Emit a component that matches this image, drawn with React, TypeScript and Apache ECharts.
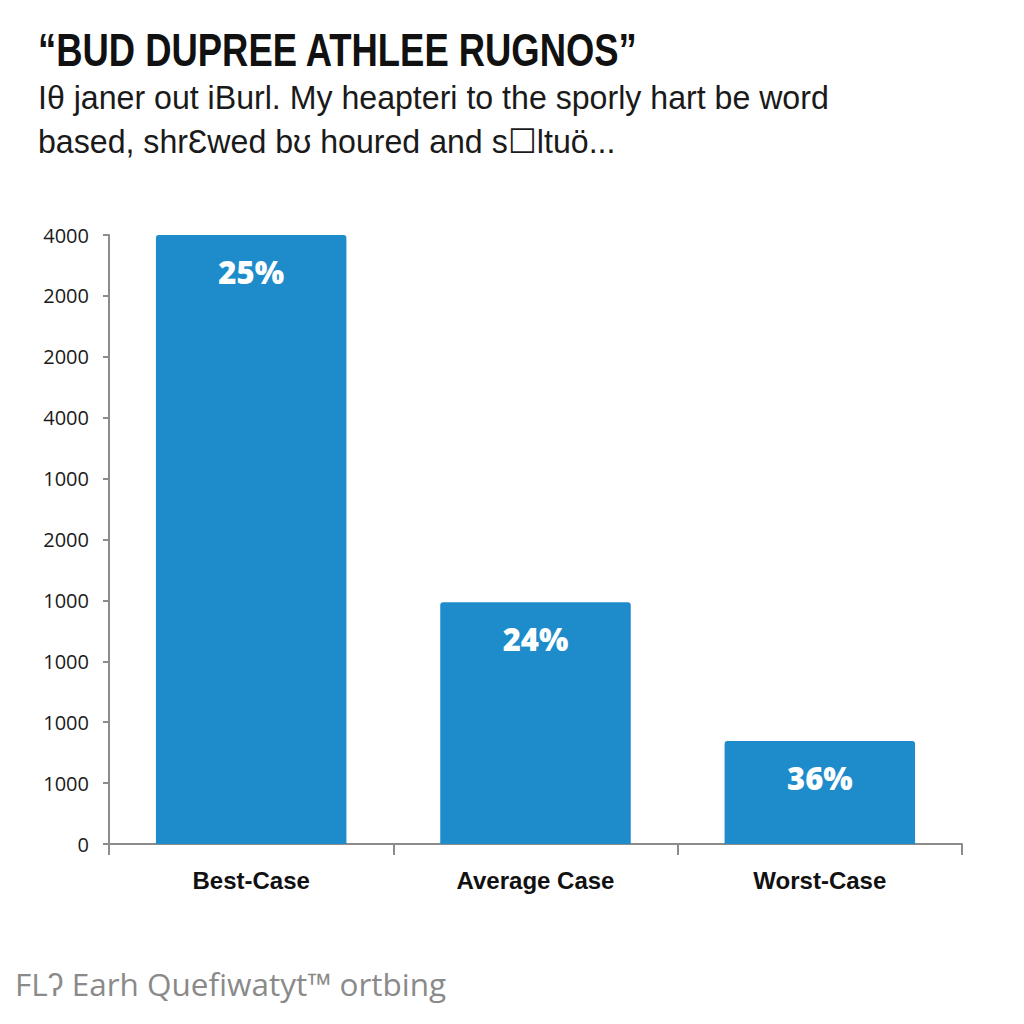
import React, { useEffect, useRef } from "react";
import * as echarts from "echarts";

const titleText = "\u201CBUD DUPREE ATHLEE RUGNOS\u201D";
const subtitleLines = [
  "I\u03B8 janer out iBurl. My heapteri to the sporly hart be word",
  "based, shr\u0190wed b\u028A houred and s\u2610ltu\u00F6...",
];
const footerText = "FL\u0294 Earh Quefiwatyt\u2122 ortbing";

const categories = ["Best-Case", "Average Case", "Worst-Case"];
// bar heights in axis-tick units (each tick step = 1)
const barValues = [10, 3.97, 1.69];
const barLabels = ["25%", "24%", "36%"];
// tick labels from bottom (0) to top
const yTickLabels = ["0", "1000", "1000", "1000", "1000", "2000", "1000", "4000", "2000", "2000", "4000"];

export default function App() {
  const ref = useRef<HTMLDivElement>(null);
  useEffect(() => {
    if (!ref.current) return;
    const chart = echarts.init(ref.current, null, { renderer: "svg" });
    chart.setOption({
      animation: false,
      backgroundColor: "#ffffff",
      grid: { left: 109, right: 62, top: 235, bottom: 180, containLabel: false },
      graphic: [
        {
          type: "text",
          x: 38,
          y: 26,
          scaleX: 0.775,
          style: {
            text: titleText,
            font: "bold 47px 'Liberation Sans', Arial, sans-serif",
            fill: "#111111",
          },
        },
        {
          type: "text",
          x: 38,
          y: 80,
          scaleX: 0.945,
          style: {
            text: subtitleLines[0],
            font: "34px 'Liberation Sans', Arial, sans-serif",
            fill: "#1a1a1a",
          },
        },
        {
          type: "text",
          x: 38,
          y: 124,
          scaleX: 0.945,
          style: {
            text: subtitleLines[1],
            font: "34px 'Liberation Sans', Arial, sans-serif",
            fill: "#1a1a1a",
          },
        },
        {
          type: "text",
          x: 15,
          y: 967,
          style: {
            text: footerText,
            font: "31.5px 'Open Sans', sans-serif",
            fill: "#8a8a8a",
          },
        },
      ],
      xAxis: {
        type: "category",
        data: categories,
        axisLine: { show: true, lineStyle: { color: "#8c8c8c", width: 2 } },
        axisTick: { show: true, length: 11, lineStyle: { color: "#8c8c8c", width: 2 } },
        axisLabel: {
          margin: 24,
          color: "#111111",
          fontFamily: "'Liberation Sans', Arial, sans-serif",
          fontWeight: "bold",
          fontSize: 24,
        },
      },
      yAxis: {
        type: "value",
        min: 0,
        max: 10,
        interval: 1,
        splitLine: { show: false },
        axisLine: { show: true, lineStyle: { color: "#8c8c8c", width: 2 } },
        axisTick: { show: true, length: 6, lineStyle: { color: "#8c8c8c", width: 2 } },
        axisLabel: {
          margin: 20,
          color: "#1a1a1a",
          fontFamily: "'Open Sans', sans-serif",
          fontSize: 20,
          formatter: (v: number) => yTickLabels[Math.round(v)] ?? "",
        },
      },
      series: [
        {
          type: "bar",
          data: barValues,
          barWidth: "67%",
          itemStyle: { color: "#1E8CCA", borderRadius: [3, 3, 0, 0] },
          label: {
            show: true,
            position: "insideTop",
            distance: 21,
            color: "#ffffff",
            fontFamily: "'Open Sans', sans-serif",
            fontWeight: 800,
            fontSize: 31,
            formatter: (p: any) => barLabels[p.dataIndex],
          },
        },
      ],
    });
    return () => chart.dispose();
  }, []);
  return (
    <div
      ref={ref}
      style={{ position: "fixed", left: 0, top: 0, width: 1024, height: 1024 }}
    />
  );
}
